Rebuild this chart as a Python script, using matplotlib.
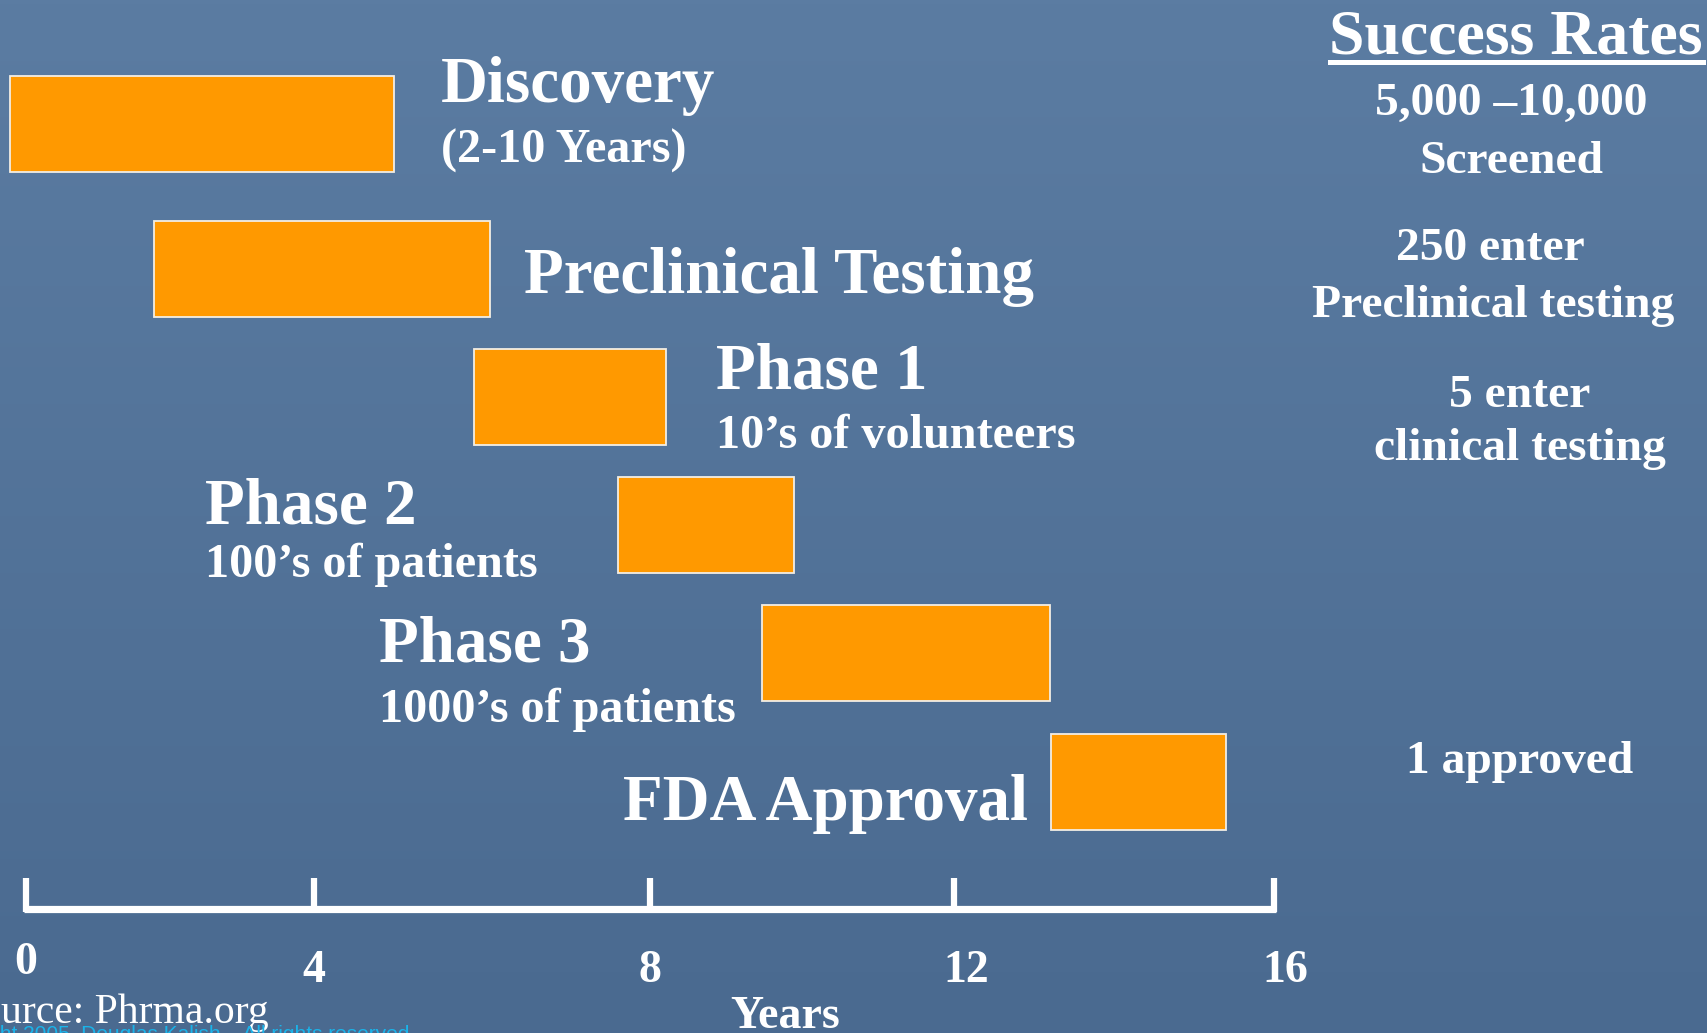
import numpy as np
import matplotlib
matplotlib.use("Agg")
import matplotlib.pyplot as plt
from matplotlib.lines import Line2D

# data (years)
phases = ["Discovery", "Preclinical Testing", "Phase 1", "Phase 2", "Phase 3", "FDA Approval"]
start_years = [-0.2, 1.64, 5.74, 7.59, 9.43, 13.14]
end_years = [4.72, 5.95, 8.21, 9.85, 13.13, 15.39]
sub_labels = ["(2-10 Years)", "", "10\u2019s of volunteers", "100\u2019s of patients",
              "1000\u2019s of patients", ""]

tick_years = [0, 3.69, 8.0, 11.9, 16.0]
tick_labels = ["0", "4", "8", "12", "16"]

rate_lines = ["5,000 \u201310,000", "Screened", "250 enter", "Preclinical testing",
              "5 enter", "clinical testing", "1 approved"]

W, H = 1708, 1033
fig = plt.figure(figsize=(W / 100, H / 100), dpi=100)

# background gradient
bg = fig.add_axes([0, 0, 1, 1])
grad = np.linspace(0, 1, 256).reshape(-1, 1)
cmap = matplotlib.colors.LinearSegmentedColormap.from_list("slide", ["#5b7ca2", "#4a6a90"])
bg.imshow(grad, aspect="auto", cmap=cmap, extent=[0, 1, 0, 1], origin="upper")
bg.axis("off")

ax = fig.add_axes([0, 0, 1, 1])
ax.patch.set_alpha(0)
ax.set_xlim(-26 / 78, (W - 26) / 78)
ax.set_ylim((H - 124) / 128, -124 / 128)
ax.axis("off")

lanes = [0, 1.13, 2.13, 3.13, 4.13, 5.14]
widths = [e - s for s, e in zip(start_years, end_years)]
ax.barh(lanes, widths, left=start_years, height=0.75, color="#FF9900",
        edgecolor="#f3eee4", linewidth=1.3, zorder=3)

serif = "Liberation Serif"
big = dict(color="white", fontfamily=serif, fontweight="bold", fontsize=46.8, va="baseline")
small = dict(color="white", fontfamily=serif, fontweight="bold", fontsize=33, va="baseline")
sub = dict(color="white", fontfamily=serif, fontweight="bold", fontsize=34.7, va="baseline")

# label positions (left x in years, baseline in lane units)
name_pos = [(5.32, -0.17), (6.39, 1.32), (8.85, 2.07), (2.30, 3.12), (4.53, 4.20), (7.65, 5.44)]
sub_pos = [(5.32, 0.30), None, (8.85, 2.53), (2.30, 3.54), (4.53, 4.67), None]
for name, p, s, sp in zip(phases, name_pos, sub_labels, sub_pos):
    ax.text(p[0], p[1], name, **big)
    if sp is not None:
        ax.text(sp[0], sp[1], s, **sub)

# timeline axis
axis_row = (909 - 124) / 128
tick_top = (878 - 124) / 128
ax.hlines(axis_row, tick_years[0] - 0.03, tick_years[-1] + 0.03, color="white", lw=5.2)
ax.vlines(tick_years, tick_top, axis_row + 0.02, color="white", lw=4.5)
label_shift = [0, 0, 0, 0.15, 0.15]
label_base = [(974 - 124) / 128] + [(982 - 124) / 128] * 4
for t, lab, dx, yb in zip(tick_years, tick_labels, label_shift, label_base):
    ax.text(t + dx, yb, lab, ha="center", **small)
ax.text((785 - 26) / 78, (1028 - 124) / 128, "Years", ha="center", **small)

# success rates column
fig.text(1516 / W, 1 - 53 / H, "Success Rates", ha="center", va="baseline",
         color="white", fontfamily=serif, fontweight="bold", fontsize=46)
fig.add_artist(Line2D([1330 / W, 1703 / W], [1 - 62 / H] * 2, color="white", lw=3.6))
rate_x = [1511, 1511, 1490, 1493, 1520, 1520, 1520]
rate_base = [115, 173, 260, 317, 407, 460, 773]
for txt, x, yb in zip(rate_lines, rate_x, rate_base):
    fig.text(x / W, 1 - yb / H, txt, ha="center", va="baseline", color="white",
             fontfamily=serif, fontweight="bold", fontsize=34.2)

# source and copyright, cut by the slide edge
fig.text(-43 / W, 1 - 1023 / H, "Source: Phrma.org", ha="left", va="baseline",
         color="white", fontfamily=serif, fontsize=30)
fig.text(-72 / W, 1 - 1040 / H, "Copyright 2005, Douglas Kalish.   All rights reserved.",
         ha="left", va="baseline", color="#1ab4ea", fontfamily="Liberation Sans", fontsize=15)

fig.savefig("out.png", dpi=100)
